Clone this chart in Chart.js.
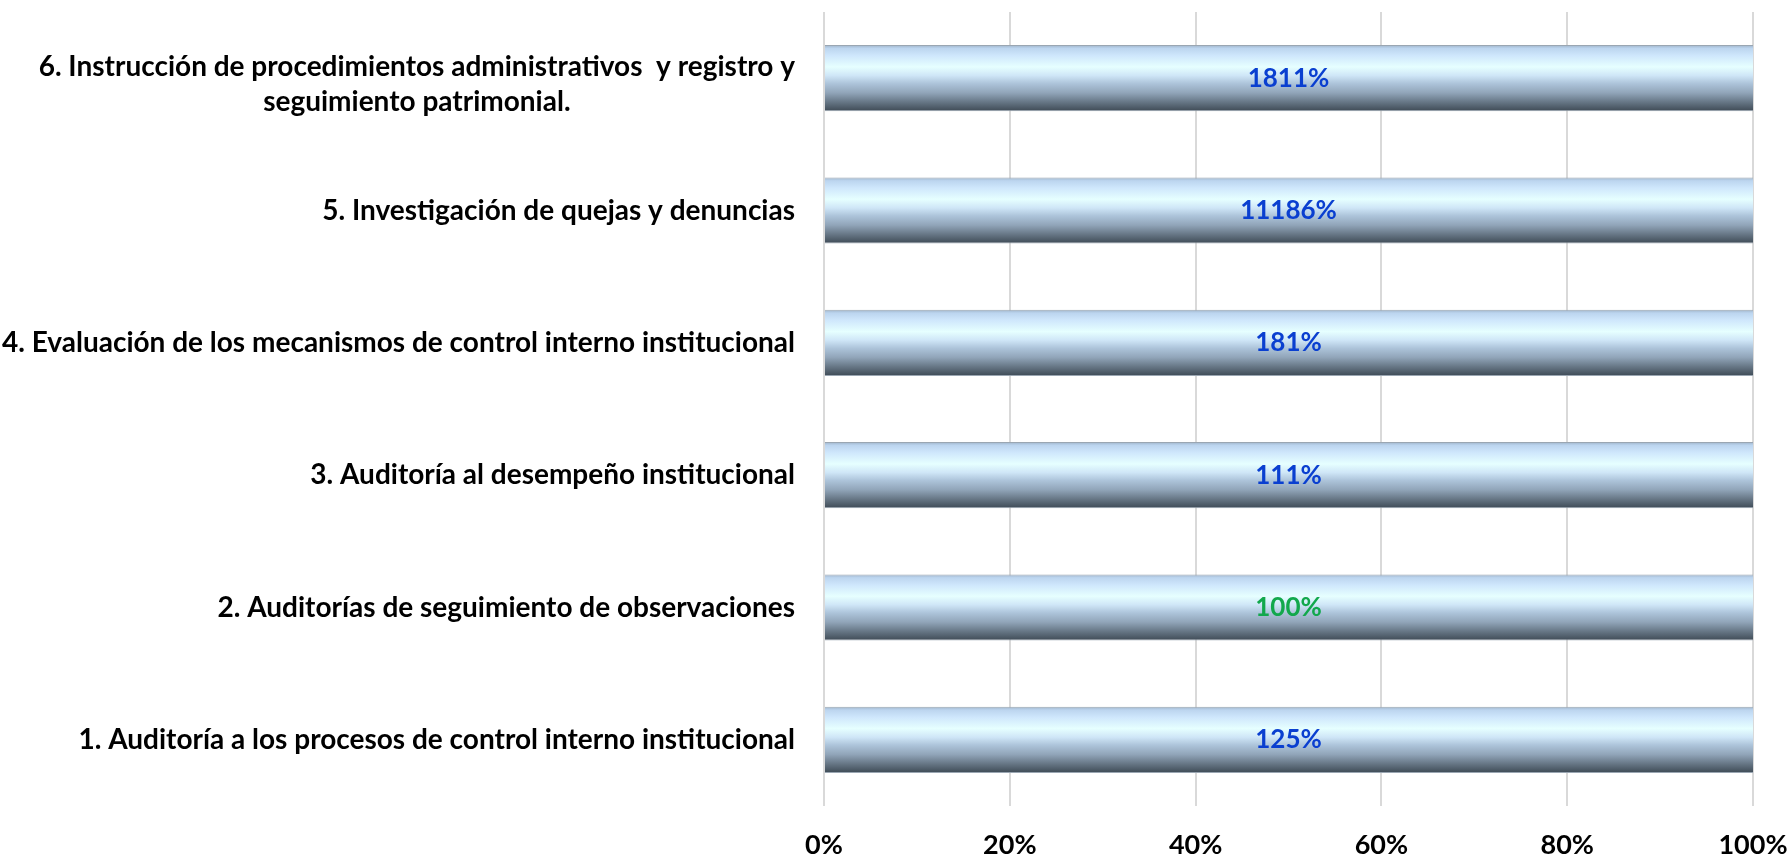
<!DOCTYPE html>
<html>
<head>
<meta charset="utf-8">
<script src="https://cdn.jsdelivr.net/npm/chart.js@4.4.1/dist/chart.umd.min.js"></script>
<style>
  body { margin: 0; background: #fff; }
  #wrap { width: 1789px; height: 856px; position: relative; }
</style>
</head>
<body>
<div id="wrap"><canvas id="grafico"></canvas></div>
<script>
// categorias de abajo hacia arriba
const categorias = [
    ['1. Auditoría a los procesos de control interno institucional'],
    ['2. Auditorías de seguimiento de observaciones'],
    ['3. Auditoría al desempeño institucional'],
    ['4. Evaluación de los mecanismos de control interno institucional'],
    ['5. Investigación de quejas y denuncias'],
    ['6. Instrucción de procedimientos administrativos  y registro y', 'seguimiento patrimonial.']
];
const avance = [125, 100, 111, 181, 11186, 1811];
const ticksX = [0, 20, 40, 60, 80, 100];

const fuente = 'Lato, "Open Sans", sans-serif';
const azul = '#0a3fd0';
const verde = '#12a84c';

function degradado(ctx){
    const chart = ctx.chart;
    const y = chart.scales.y;
    if(!y || !chart.chartArea) return '#c0d8ee';
    const centro = y.getPixelForValue(ctx.dataIndex);
    const alto = (chart.chartArea.bottom - chart.chartArea.top) / categorias.length * 0.5;
    const g = chart.ctx.createLinearGradient(0, centro - alto / 2, 0, centro + alto / 2);
    g.addColorStop(0, '#9fb4ca');
    g.addColorStop(0.05, '#bcd5ef');
    g.addColorStop(0.16, '#cfe7fc');
    g.addColorStop(0.33, '#e6ffff');
    g.addColorStop(0.46, '#cfe6f7');
    g.addColorStop(0.58, '#adc4da');
    g.addColorStop(0.72, '#91a5b9');
    g.addColorStop(0.86, '#677786');
    g.addColorStop(1, '#3e4a55');
    return g;
}

// etiquetas del eje Y (renglones centrados entre sí, bloque alineado a la derecha)
const etiquetasY = {
    id: 'etiquetasY',
    afterDraw(chart){
        const c = chart.ctx;
        const y = chart.scales.y;
        const derecha = chart.chartArea.left - 29;
        c.save();
        c.font = 'bold 28px ' + fuente;
        c.fillStyle = '#000';
        c.textAlign = 'center';
        c.textBaseline = 'middle';
        categorias.forEach((lineas, i) => {
            const ancho = Math.max(...lineas.map(l => c.measureText(l).width));
            const cx = derecha - ancho / 2;
            const cy = y.getPixelForValue(i);
            const salto = 35;
            const inicio = cy - (lineas.length - 1) * salto / 2 + (lineas.length > 1 ? 6 : 0);
            lineas.forEach((l, j) => c.fillText(l, cx, inicio + j * salto));
        });
        c.restore();
    }
};

// porcentaje al centro de cada barra
const etiquetasBarra = {
    id: 'etiquetasBarra',
    afterDatasetsDraw(chart){
        const c = chart.ctx;
        const area = chart.chartArea;
        const meta = chart.getDatasetMeta(0);
        c.save();
        c.font = 'bold 26px ' + fuente;
        c.textAlign = 'center';
        c.textBaseline = 'middle';
        meta.data.forEach((bar, i) => {
            const x = (area.left + Math.min(bar.x, area.right)) / 2;
            c.fillStyle = avance[i] === 100 ? verde : azul;
            c.fillText(avance[i] + '%', x, bar.y);
        });
        c.restore();
    }
};

new Chart(document.getElementById('grafico'), {
    type: 'bar',
    data: {
        labels: categorias,
        datasets: [{
            data: avance,
            backgroundColor: degradado,
            borderColor: '#9aa6b2',
            borderWidth: { top: 1, bottom: 1, left: 0, right: 0 },
            borderSkipped: false,
            barPercentage: 0.5,
            categoryPercentage: 1
        }]
    },
    options: {
        indexAxis: 'y',
        responsive: true,
        maintainAspectRatio: false,
        animation: false,
        layout: { padding: { top: 12, right: 36, left: 0, bottom: 0 } },
        plugins: {
            legend: { display: false },
            tooltip: { enabled: false }
        },
        scales: {
            x: {
                min: 0,
                max: 100,
                afterBuildTicks(scale){ scale.ticks = ticksX.map(v => ({ value: v })); },
                afterFit(scale){
                    scale.height = 50;
                    scale.paddingLeft = 0;
                    scale.paddingRight = 0;
                },
                grid: { color: '#d9d9d9', lineWidth: 2, drawTicks: false },
                border: { display: false },
                ticks: {
                    padding: 23,
                    color: '#000',
                    font: { family: fuente, size: 27, weight: 'bold' },
                    callback: v => v + '%'
                }
            },
            y: {
                reverse: true,
                afterFit(scale){ scale.width = 824; },
                grid: { display: false },
                border: { display: false },
                ticks: { display: false }
            }
        }
    },
    plugins: [etiquetasY, etiquetasBarra]
});
</script>
</body>
</html>
